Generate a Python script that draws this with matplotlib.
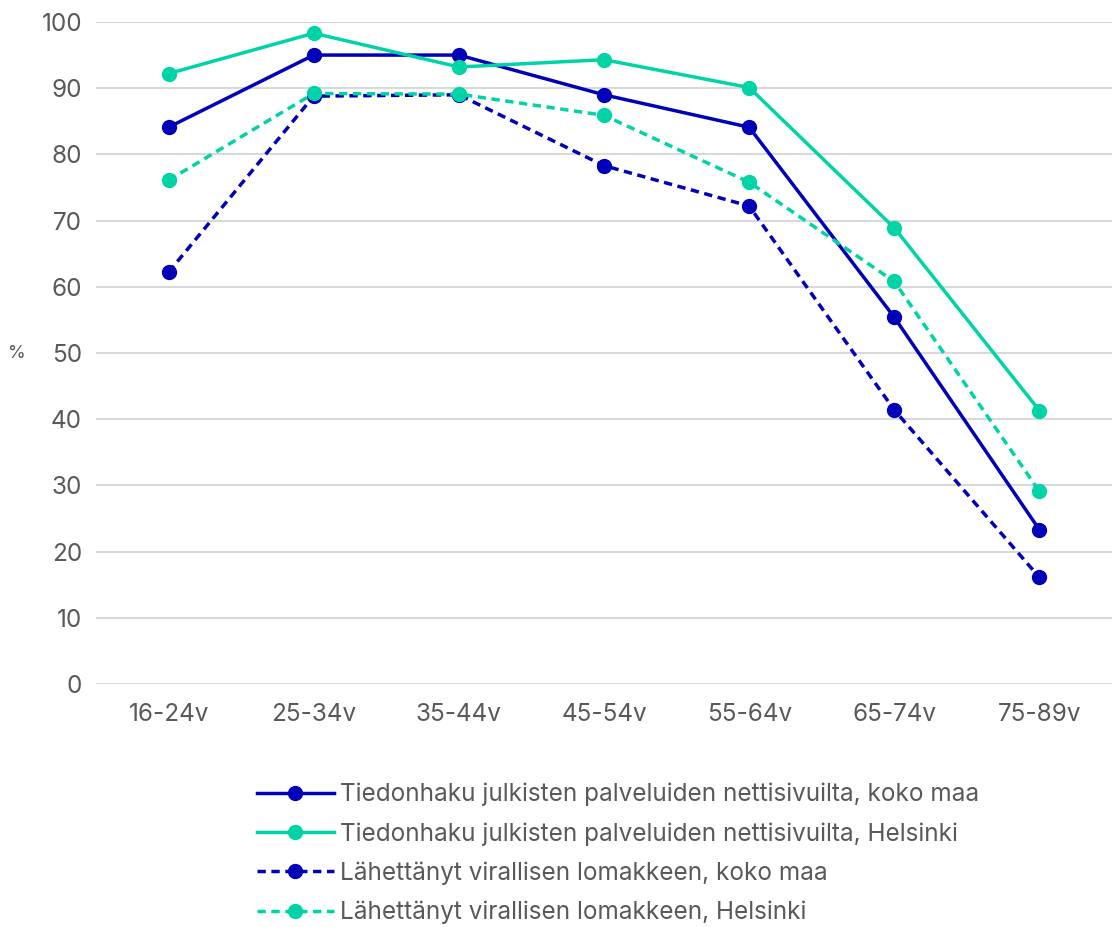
import matplotlib
matplotlib.use("Agg")
import matplotlib.pyplot as plt

plt.rcParams['font.family'] = ['Inter', 'DejaVu Sans']

age_groups = ["16-24v", "25-34v", "35-44v", "45-54v", "55-64v", "65-74v", "75-89v"]
info_country = [84.1, 95.0, 95.0, 89.0, 84.1, 55.4, 23.3]
info_helsinki = [92.2, 98.3, 93.2, 94.3, 90.1, 68.9, 41.3]
form_country = [62.2, 88.8, 89.0, 78.3, 72.2, 41.4, 16.1]
form_helsinki = [76.1, 89.2, 89.1, 85.9, 75.8, 60.8, 29.1]

labels = [
    "Tiedonhaku julkisten palveluiden nettisivuilta, koko maa",
    "Tiedonhaku julkisten palveluiden nettisivuilta, Helsinki",
    "Lähettänyt virallisen lomakkeen, koko maa",
    "Lähettänyt virallisen lomakkeen, Helsinki",
]

blue = "#0000b8"
teal = "#00d4a6"
text_col = "#595959"

fig = plt.figure(figsize=(11.12, 9.27), dpi=100)
ax = fig.add_axes([0.0863, 0.2621, 0.9137, 0.7142])

x = range(len(age_groups))
dash = (0, (2.4, 1.6))
series = [
    (info_country, blue, "-"),
    (info_helsinki, teal, "-"),
    (form_country, blue, dash),
    (form_helsinki, teal, dash),
]
for (vals, col, ls), lab in zip(series, labels):
    ax.plot(x, vals, color=col, linestyle=ls, linewidth=2.5, marker="o",
            markersize=10, label=lab)

ax.set_xlim(-0.5, 6.5)
ax.set_ylim(0, 100)
ax.set_yticks(range(0, 101, 10))
ax.set_xticks(list(x))
ax.set_xticklabels(age_groups)
ax.grid(axis="y", color="#d9d9d9", linewidth=1.5)
ax.set_axisbelow(True)
for s in ax.spines.values():
    s.set_visible(False)
ax.tick_params(length=0, labelsize=17.5, colors=text_col, pad=10)
ax.tick_params(axis="x", pad=14)
ax.set_ylabel("%", rotation=0, fontsize=13, color=text_col, va="center",
              labelpad=0)
ax.yaxis.set_label_coords(-0.078, 0.5)

leg = fig.legend(loc="upper left", bbox_to_anchor=(0.222, 0.166), frameon=False,
                 fontsize=17.5, handlelength=3.2, handletextpad=0.25,
                 labelspacing=0.65, borderaxespad=0)
for t in leg.get_texts():
    t.set_color(text_col)

fig.savefig("out.png", dpi=100)
